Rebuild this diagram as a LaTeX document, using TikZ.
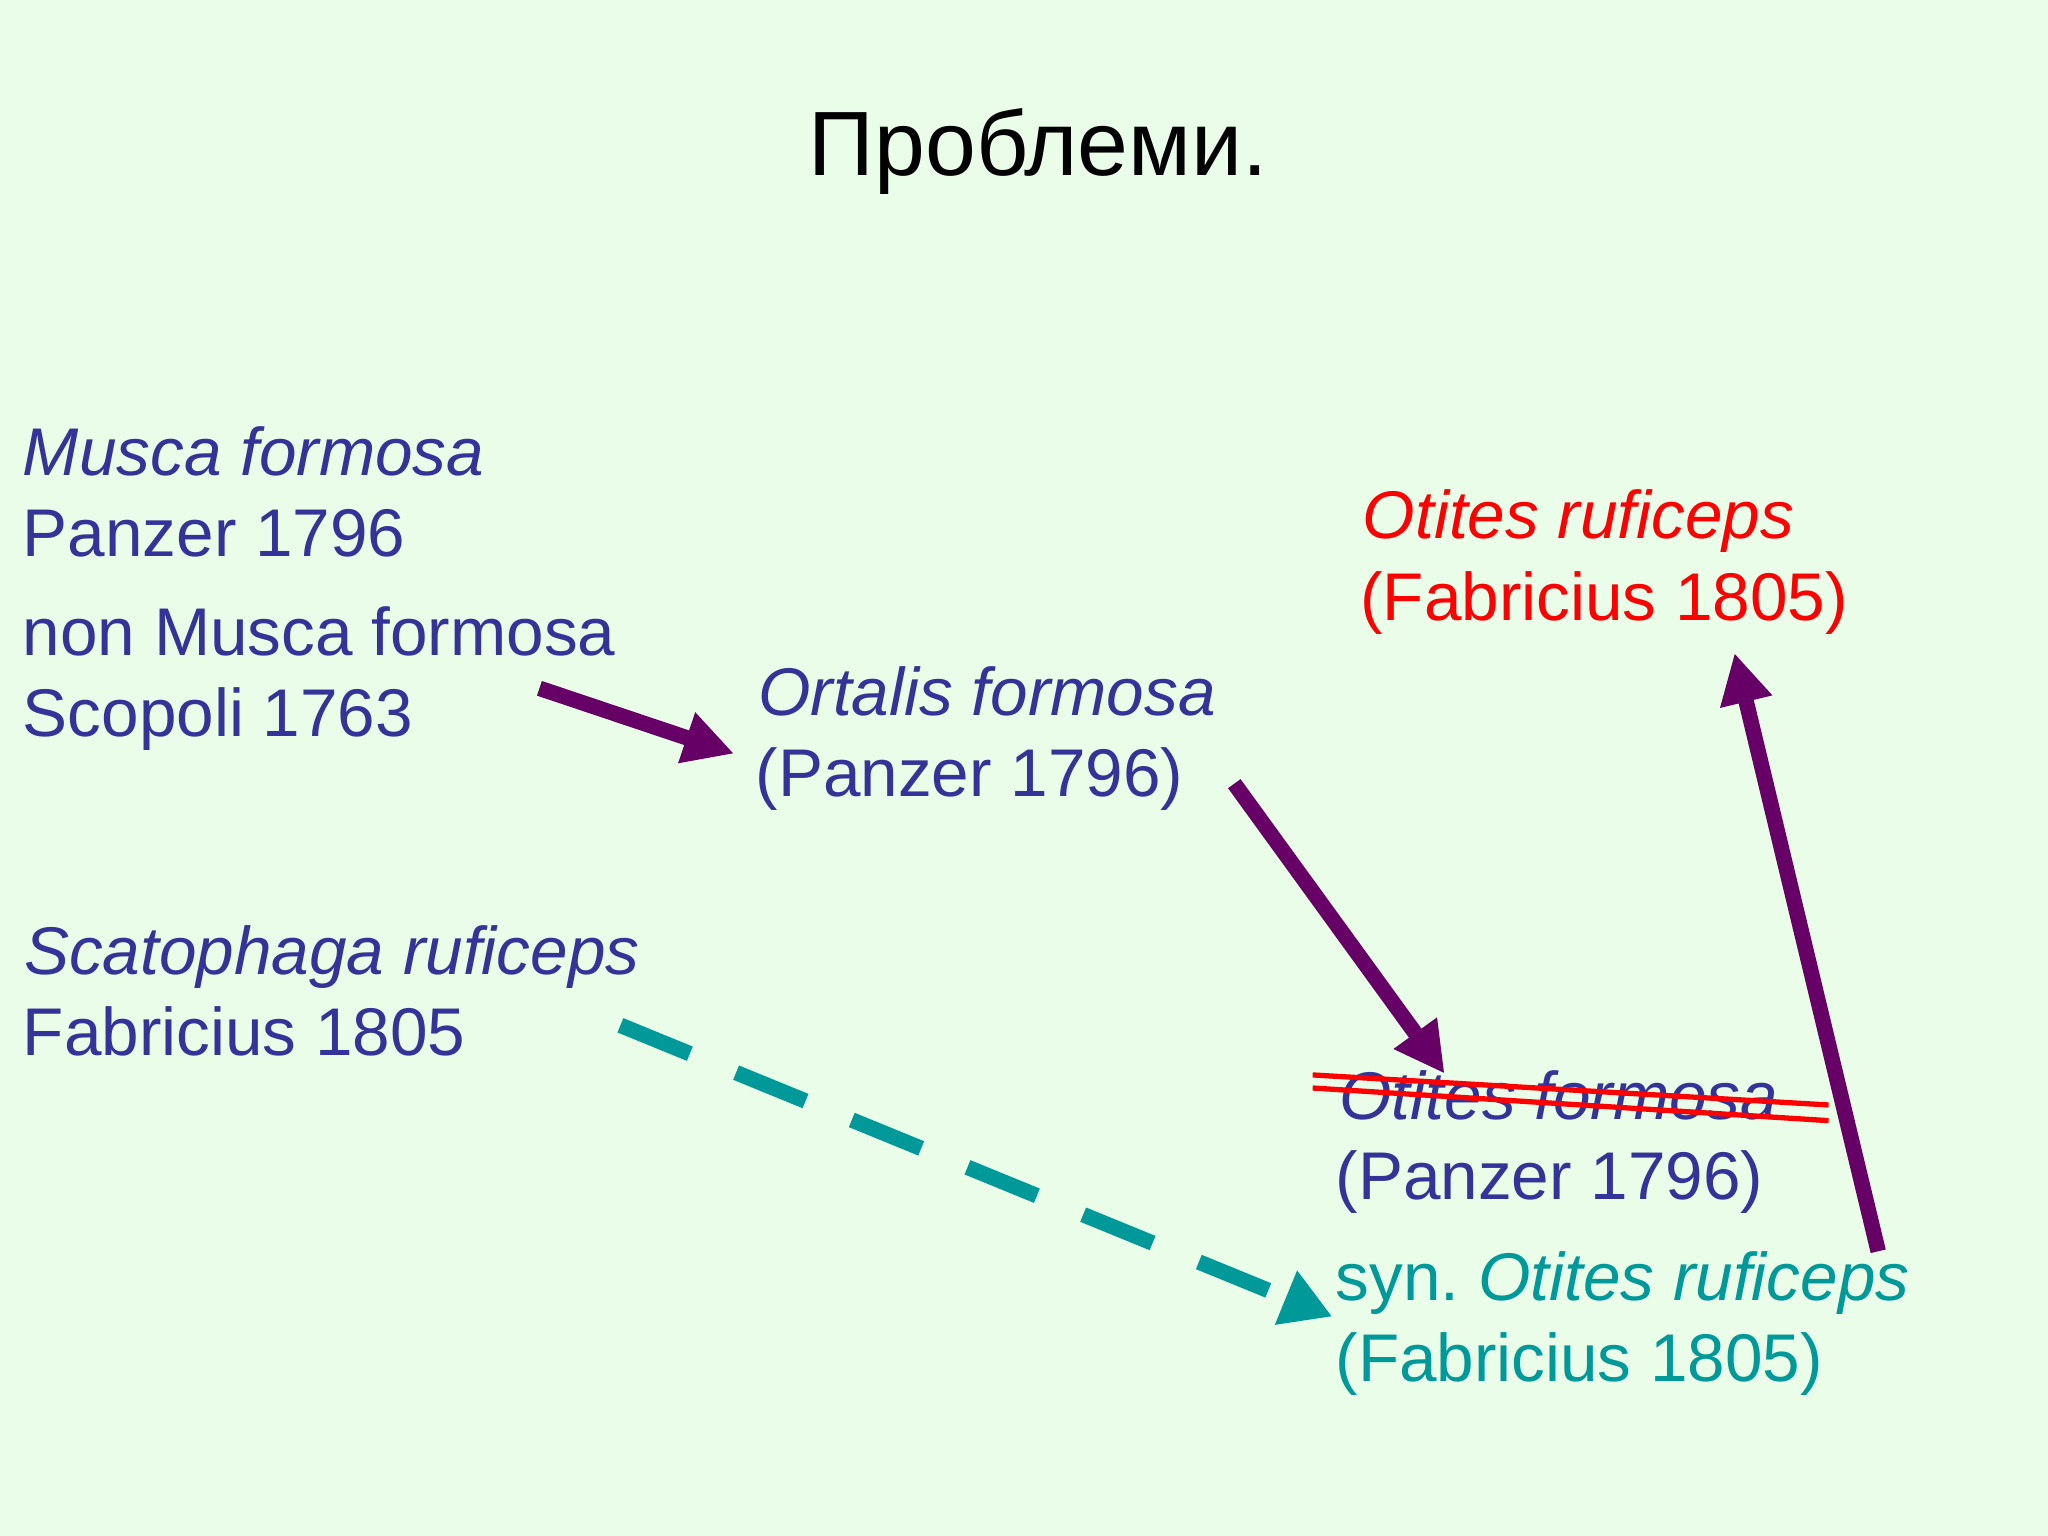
\documentclass[tikz,border=0pt]{standalone}
\usepackage{fontspec}
\setmainfont{Liberation Sans}
\usetikzlibrary{arrows.meta}
\definecolor{bg}{RGB}{234,253,232}
\definecolor{tblue}{RGB}{51,51,153}
\definecolor{tpurple}{RGB}{102,0,102}
\definecolor{tteal}{RGB}{0,153,153}
\definecolor{tred}{RGB}{255,0,0}
\begin{document}
\begin{tikzpicture}[x=0.013061cm,y=-0.013061cm,
  txt/.style={anchor=base west,inner sep=0pt,font=\fontsize{19.2}{23}\selectfont,text=tblue},
  parr/.style={line width=4.4pt,draw=tpurple,-{Triangle[length=0.5cm,width=0.5cm]}},
  tarr/.style={line width=4.4pt,draw=tteal,dash pattern=on 0.75cm off 0.5cm,-{Triangle[length=0.5cm,width=0.55cm]}}]
\fill[bg] (0,0) rectangle (1568,1176);
\useasboundingbox (0,0) rectangle (1568,1176);
\node[anchor=base,inner sep=0pt,font=\fontsize{26}{30}\selectfont] (title) at (795,134) {Проблеми.};
\node[txt] (m1) at (17,364) {\itshape Musca formosa};
\node[txt] (m2) at (17,426) {Panzer 1796};
\node[txt] (m3) at (17,502) {non Musca formosa};
\node[txt] (m4) at (17,564) {Scopoli 1763};
\node[txt] (o1) at (580,548) {\itshape Ortalis formosa};
\node[txt] (o2) at (578,610) {(Panzer 1796)};
\node[txt] (s1) at (18,746) {\itshape Scatophaga ruficeps};
\node[txt] (s2) at (17,808) {Fabricius 1805};
\node[txt,text=tred] (r1) at (1043,412) {\itshape Otites ruficeps};
\node[txt,text=tred] (r2) at (1041,475) {(Fabricius 1805)};
\node[txt] (f1) at (1025,857) {\itshape Otites formosa};
\node[txt] (f2) at (1022,918) {(Panzer 1796)};
\node[txt,text=tteal] (y1) at (1022,996) {syn.~\itshape Otites ruficeps};
\node[txt,text=tteal] (y2) at (1022,1058) {(Fabricius 1805)};
\coordinate (a1s) at (413,527); \coordinate (a1e) at (562,577);
\coordinate (a2s) at (945,600); \coordinate (a2e) at (1106,822);
\coordinate (a3s) at (1438,958); \coordinate (a3e) at (1328,500);
\coordinate (a4s) at (475,785); \coordinate (a4e) at (1020,1008);
\coordinate (l1s) at (1005,823); \coordinate (l1e) at (1400,846);
\coordinate (l2s) at (1005,833); \coordinate (l2e) at (1400,858);
\draw[tred,line width=1.5pt] (l1s) -- (l1e);
\draw[tred,line width=1.5pt] (l2s) -- (l2e);
\draw[parr] (a1s) -- (a1e);
\draw[parr] (a2s) -- (a2e);
\draw[parr] (a3s) -- (a3e);
\draw[tarr] (a4s) -- (a4e);
\end{tikzpicture}
\end{document}
